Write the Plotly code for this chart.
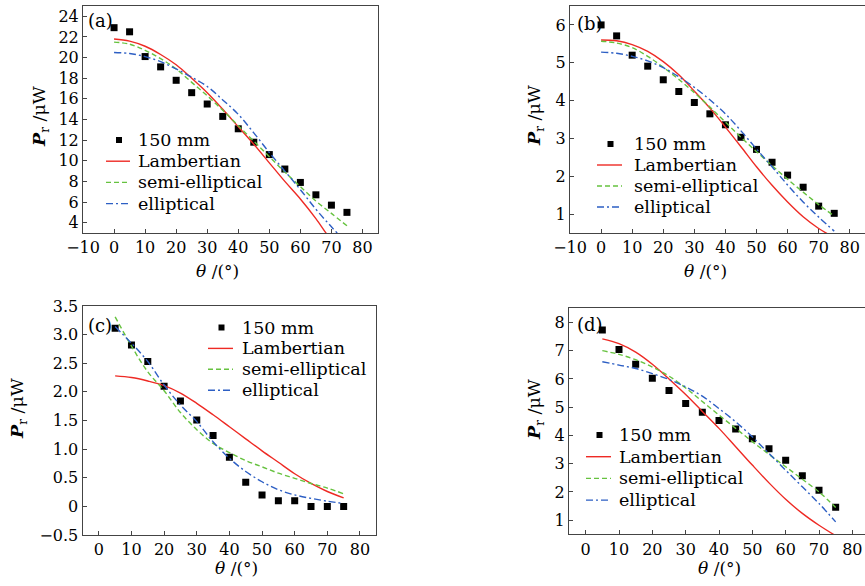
import plotly.graph_objects as go

W, H = 865, 586

# ---------------- data ----------------
theta_ab = [0, 5, 10, 15, 20, 25, 30, 35, 40, 45, 50, 55, 60, 65, 70, 75]
theta_cd = [5, 10, 15, 20, 25, 30, 35, 40, 45, 50, 55, 60, 65, 70, 75]

# panel (a)
a_meas = [22.9, 22.5, 20.1, 19.1, 17.8, 16.6, 15.5, 14.3, 13.1, 11.8, 10.6, 9.2, 7.9, 6.7, 5.7, 5.0]
a_lamb = [21.8, 21.6, 21.1, 20.3, 19.3, 18.0, 16.6, 15.0, 13.3, 11.6, 9.8, 8.0, 6.3, 4.4, 2.3, 0.8]
a_semi = [21.5, 21.3, 20.7, 19.9, 18.9, 17.6, 16.3, 14.9, 13.4, 11.9, 10.4, 8.9, 7.5, 6.1, 4.9, 3.7]
a_ell = [20.5, 20.4, 20.1, 19.6, 18.9, 18.1, 17.2, 15.9, 14.5, 12.7, 10.8, 9.0, 7.2, 5.3, 3.6, 2.0]

# panel (b)
b_meas = [6.0, 5.71, 5.2, 4.91, 4.55, 4.24, 3.95, 3.65, 3.36, 3.03, 2.71, 2.37, 2.03, 1.71, 1.21, 1.02]
b_lamb = [5.6, 5.58, 5.48, 5.3, 5.03, 4.68, 4.25, 3.8, 3.3, 2.78, 2.25, 1.76, 1.32, 0.93, 0.62, 0.38]
b_semi = [5.57, 5.52, 5.4, 5.17, 4.88, 4.56, 4.21, 3.83, 3.43, 3.03, 2.65, 2.28, 1.92, 1.58, 1.25, 0.95]
b_ell = [5.28, 5.25, 5.17, 5.05, 4.87, 4.63, 4.35, 4.02, 3.65, 3.2, 2.72, 2.25, 1.77, 1.32, 0.92, 0.55]

# panel (c)
c_meas = [3.11, 2.82, 2.53, 2.1, 1.84, 1.51, 1.24, 0.86, 0.42, 0.2, 0.1, 0.1, 0.0, 0.0, 0.0]
c_lamb = [2.28, 2.25, 2.19, 2.11, 1.98, 1.8, 1.6, 1.39, 1.18, 0.97, 0.77, 0.57, 0.4, 0.26, 0.15]
c_semi = [3.31, 2.8, 2.35, 2.02, 1.64, 1.34, 1.1, 0.94, 0.8, 0.69, 0.58, 0.49, 0.4, 0.32, 0.22]
c_ell = [3.14, 2.85, 2.53, 2.12, 1.77, 1.48, 1.13, 0.84, 0.61, 0.43, 0.29, 0.2, 0.14, 0.09, 0.05]

# panel (d)
d_meas = [7.73, 7.04, 6.52, 6.02, 5.59, 5.13, 4.82, 4.53, 4.23, 3.88, 3.53, 3.12, 2.57, 2.06, 1.46]
d_lamb = [7.42, 7.25, 6.95, 6.52, 6.0, 5.45, 4.85, 4.25, 3.6, 2.95, 2.32, 1.74, 1.24, 0.82, 0.45]
d_semi = [7.0, 6.87, 6.68, 6.42, 6.1, 5.68, 5.2, 4.72, 4.25, 3.78, 3.33, 2.89, 2.45, 2.0, 1.45]
d_ell = [6.61, 6.49, 6.37, 6.19, 5.98, 5.72, 5.39, 4.95, 4.48, 3.95, 3.36, 2.77, 2.18, 1.59, 0.94]

names = ["150 mm", "Lambertian", "semi-elliptical", "elliptical"]
panel_labels = ["(a)", "(b)", "(c)", "(d)"]
x_ticks_ab = [-10, 0, 10, 20, 30, 40, 50, 60, 70, 80]
x_ticks_cd = [0, 10, 20, 30, 40, 50, 60, 70, 80]
y_ticks_a = [4, 6, 8, 10, 12, 14, 16, 18, 20, 22, 24]
y_ticks_b = [1, 2, 3, 4, 5, 6]
y_ticks_c = [-0.5, 0, 0.5, 1.0, 1.5, 2.0, 2.5, 3.0, 3.5]
y_text_c = ["\u22120.5", "0", "0.5", "1.0", "1.5", "2.0", "2.5", "3.0", "3.5"]
y_ticks_d = [1, 2, 3, 4, 5, 6, 7, 8]

FONT = "DejaVu Serif, Liberation Serif, serif"
FS = 16
LFS = 17.5
RED = "#ee2a24"
GREEN = "#66c23f"
BLUE = "#2d5fc4"
AX = "#444444"
STYLES = [
    None,
    dict(color=RED, width=1.4),
    dict(color=GREEN, width=1.4, dash="5px,3px"),
    dict(color=BLUE, width=1.4, dash="7px,3px,2px,3px"),
]


def xp(px):
    return px / W


def yp(py):
    return 1 - py / H


fig = go.Figure()

panels = [
    (theta_ab, a_meas, a_lamb, a_semi, a_ell, "x", "y"),
    (theta_ab, b_meas, b_lamb, b_semi, b_ell, "x2", "y2"),
    (theta_cd, c_meas, c_lamb, c_semi, c_ell, "x3", "y3"),
    (theta_cd, d_meas, d_lamb, d_semi, d_ell, "x4", "y4"),
]

for th, meas, lamb, semi, ell, xa, ya in panels:
    fig.add_trace(go.Scatter(x=th, y=meas, mode="markers", name=names[0],
                             marker=dict(symbol="square", size=7, color="black"),
                             xaxis=xa, yaxis=ya, showlegend=False))
    for nm, vals, st in zip(names[1:], [lamb, semi, ell], STYLES[1:]):
        fig.add_trace(go.Scatter(x=th, y=vals, mode="lines", name=nm,
                                 line=dict(shape="spline", **st),
                                 xaxis=xa, yaxis=ya, showlegend=False))

axis_common = dict(showline=True, mirror=True, linecolor=AX, linewidth=1,
                   ticks="inside", ticklen=4, tickcolor=AX, tickwidth=1,
                   showgrid=False, zeroline=False, automargin=False,
                   tickfont=dict(family=FONT, size=FS, color="black"))

fig.update_layout(
    template="none",
    xaxis=dict(domain=[xp(83), xp(378)], range=[-10, 85], tickvals=x_ticks_ab, anchor="y", **axis_common),
    yaxis=dict(domain=[yp(233), yp(6)], range=[3, 25], tickvals=y_ticks_a, anchor="x", **axis_common),
    xaxis2=dict(domain=[xp(570), 1.0], range=[-10, 84.9], tickvals=x_ticks_ab, anchor="y2", **axis_common),
    yaxis2=dict(domain=[yp(233), yp(6)], range=[0.5, 6.5], tickvals=y_ticks_b, anchor="x2", **axis_common),
    xaxis3=dict(domain=[xp(82.5), xp(376.3)], range=[-5, 85], tickvals=x_ticks_cd, anchor="y3", **axis_common),
    yaxis3=dict(domain=[yp(535), yp(306)], range=[-0.5, 3.5], tickvals=y_ticks_c, ticktext=y_text_c,
                anchor="x3", **axis_common),
    xaxis4=dict(domain=[xp(569), 1.0], range=[-5, 83.8], tickvals=x_ticks_cd, anchor="y4", **axis_common),
    yaxis4=dict(domain=[yp(534.3), yp(308.3)], range=[0.5, 8.5], tickvals=y_ticks_d, anchor="x4", **axis_common),
)

annots = []
shapes = []

# legends (one per panel): (sample line x0, x1, text x, first row y, row step)
legend_pos = [
    (106, 130, 135.5, 140, 21.2),
    (597, 622, 632, 144, 21.0),
    (208, 233, 239.5, 327.5, 20.9),
    (586, 611, 617, 435, 21.7),
]
for (lx0, lx1, tx, ty, step) in legend_pos:
    for i, nm in enumerate(names):
        yy = ty + i * step
        annots.append(dict(text=nm, x=xp(tx), y=yp(yy), xref="paper", yref="paper",
                           showarrow=False, xanchor="left", yanchor="middle",
                           font=dict(family=FONT, size=LFS, color="black")))
        if i == 0:
            cx = (lx0 + lx1) / 2 + 1
            shapes.append(dict(type="rect", xref="paper", yref="paper",
                               x0=xp(cx - 3), x1=xp(cx + 3), y0=yp(yy + 3), y1=yp(yy - 3),
                               fillcolor="black", line=dict(width=0)))
        else:
            shapes.append(dict(type="line", xref="paper", yref="paper",
                               x0=xp(lx0), x1=xp(lx1), y0=yp(yy), y1=yp(yy),
                               line=STYLES[i]))

# panel labels
for lbl, (px, py) in zip(panel_labels, [(100, 21), (590, 23), (100, 325), (590, 324)]):
    annots.append(dict(text=lbl, x=xp(px), y=yp(py), xref="paper", yref="paper",
                       showarrow=False, xanchor="center", yanchor="middle",
                       font=dict(family=FONT, size=18, color="black")))
# x titles
for (px, py) in [(217, 271), (705, 271), (237, 568), (719, 568)]:
    annots.append(dict(text="<i>\u03b8</i> /(\u00b0)", x=xp(px), y=yp(py), xref="paper", yref="paper",
                       showarrow=False, xanchor="center", yanchor="middle",
                       font=dict(family=FONT, size=17, color="black")))
# y titles
for (px, py) in [(41, 117), (535, 116), (19, 409), (535, 410)]:
    annots.append(dict(text="<b><i>P</i></b><sub>r</sub> /\u03bcW", x=xp(px), y=yp(py), xref="paper", yref="paper",
                       showarrow=False, xanchor="center", yanchor="middle", textangle=-90,
                       font=dict(family=FONT, size=17.5, color="black")))

fig.update_layout(
    annotations=annots,
    shapes=shapes,
    showlegend=False,
    width=W, height=H,
    margin=dict(l=0, r=0, t=0, b=0, autoexpand=False),
    paper_bgcolor="white", plot_bgcolor="white",
    font=dict(family=FONT, size=FS, color="black"),
)

fig.write_html("out.html", config={"displayModeBar": False},
               post_script="document.body.style.margin='0px';")
